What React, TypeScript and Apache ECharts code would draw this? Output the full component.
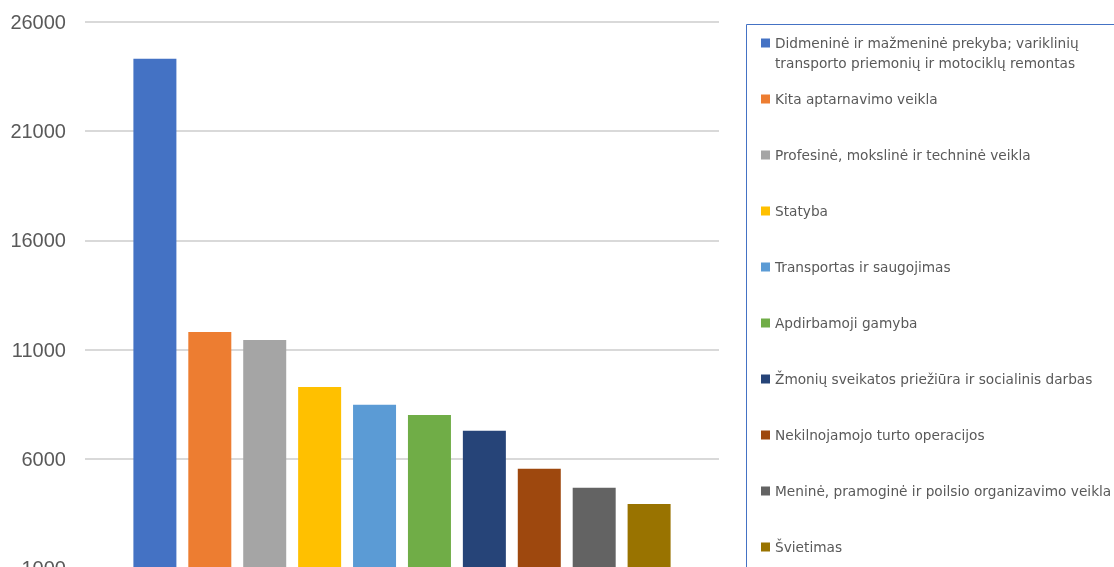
import React, { useEffect, useRef } from "react";
import * as echarts from "echarts";

const seriesNames: string[] = [
  "Didmeninė ir mažmeninė prekyba; variklinių\ntransporto priemonių ir motociklų remontas",
  "Kita aptarnavimo veikla",
  "Profesinė, mokslinė ir techninė veikla",
  "Statyba",
  "Transportas ir saugojimas",
  "Apdirbamoji gamyba",
  "Žmonių sveikatos priežiūra ir socialinis darbas",
  "Nekilnojamojo turto operacijos",
  "Meninė, pramoginė ir poilsio organizavimo veikla",
  "Švietimas",
];
const seriesValues: number[] = [24320, 11810, 11440, 9290, 8470, 8010, 7280, 5540, 4670, 3935];
const seriesColors: string[] = [
  "#4472C4", "#ED7D31", "#A5A5A5", "#FFC000", "#5B9BD5",
  "#70AD47", "#264478", "#9E480E", "#636363", "#997300",
];
const categories: string[] = [""];
const yMin = 1000;
const yMax = 26000;
const yInterval = 5000;

export default function App() {
  const ref = useRef<HTMLDivElement>(null);
  useEffect(() => {
    if (!ref.current) return;
    const chart = echarts.init(ref.current, null, { renderer: "svg" });
    const legendText = {
      fontFamily: "DejaVu Sans",
      fontSize: 13.7,
      color: "#595959",
    };
    chart.setOption({
      animation: false,
      grid: { left: 85, right: 395, top: 22, bottom: 32 },
      xAxis: {
        type: "category",
        data: categories,
        axisLine: { show: false },
        axisTick: { show: false },
        axisLabel: { show: false },
      },
      yAxis: {
        type: "value",
        min: yMin,
        max: yMax,
        interval: yInterval,
        axisLine: { show: false },
        axisTick: { show: false },
        axisLabel: {
          fontFamily: "Liberation Sans",
          fontSize: 20,
          color: "#595959",
          margin: 19,
          formatter: (v: number) => String(v),
        },
        splitLine: { lineStyle: { color: "#d9d9d9", width: 2 } },
      },
      legend: [
        {
          orient: "vertical",
          left: 756,
          top: 8,
          itemWidth: 9,
          itemHeight: 9,
          icon: "rect",
          selectedMode: false,
          data: [seriesNames[0]],
          formatter: (name: string) => "\n" + name,
          textStyle: { ...legendText, lineHeight: 20 },
        },
        {
          orient: "vertical",
          left: 756,
          top: 87,
          itemWidth: 9,
          itemHeight: 9,
          itemGap: 42,
          icon: "rect",
          selectedMode: false,
          data: seriesNames.slice(1),
          textStyle: { ...legendText, lineHeight: 14 },
        },
      ],
      graphic: [
        {
          type: "rect",
          shape: { x: 746.5, y: 24.5, width: 500, height: 700 },
          style: { fill: "none", stroke: "#4472C4", lineWidth: 1 },
          silent: true,
        },
      ],
      series: seriesNames.map((name, i) => ({
        type: "bar",
        name,
        data: [seriesValues[i]],
        barWidth: 43,
        barGap: "27.7%",
        itemStyle: { color: seriesColors[i] },
      })),
    });
    return () => chart.dispose();
  }, []);
  return (
    <div
      ref={ref}
      style={{ position: "fixed", left: 0, top: 0, width: 1114, height: 600 }}
    />
  );
}
